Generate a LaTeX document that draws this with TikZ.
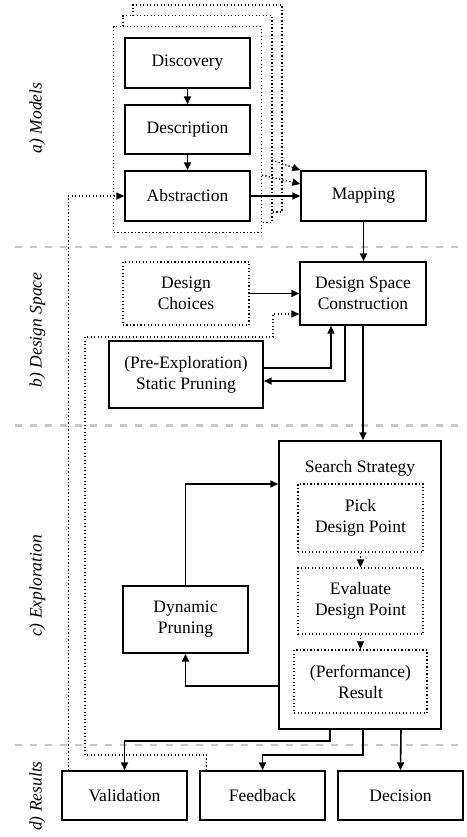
\documentclass[tikz,border=0pt]{standalone}
\usepackage{fontspec}
\setmainfont{Liberation Serif}
\usetikzlibrary{arrows.meta,calc,fit}
\pgfdeclarelayer{bgzero}\pgfdeclarelayer{bgone}
\pgfsetlayers{bgzero,bgone,main}
\begin{document}
\begin{tikzpicture}[x=0.5714pt,y=-0.5714pt,
  box/.style={draw, line width=0.9pt, fill=white, align=center, minimum width=71.4pt, minimum height=28.6pt, inner sep=1pt, font=\fontsize{10}{12}\selectfont},
  dbox/.style={box, dash pattern=on 0.75pt off 1.25pt, line width=0.75pt},
  arr/.style={line width=0.9pt, -{Triangle[length=4.5pt,width=4pt]}},
  dotarr/.style={line width=0.75pt, dash pattern=on 0.75pt off 1.25pt, -{Triangle[length=4.5pt,width=4pt]}},
  dotline/.style={line width=0.75pt, dash pattern=on 0.75pt off 1.25pt},
  sep/.style={gray!45, line width=1.4pt, dash pattern=on 4pt off 4.6pt},
  sect/.style={rotate=90, font=\fontsize{10}{12}\selectfont\itshape}
]
\useasboundingbox (0,0) rectangle (467,837);

% section separators
\begin{pgfonlayer}{bgzero}
\draw[sep] (15,247) -- (462,247);
\draw[sep] (15,425.5) -- (462,425.5);
\draw[sep] (15,745) -- (462,745);
\end{pgfonlayer}

% section labels
\node[sect] (la) at (37.5,118) {a) Models};
\node[sect] (lb) at (37.5,330) {b) Design Space};
\node[sect] (lc) at (37.5,586) {c) Exploration};
\node[sect] (ld) at (37.5,796) {d) Results};

% a) models
\node[box] (Discovery) at (187.5,63) {Discovery};
\node[box, minimum height=28pt] (Description) at (187.5,129.5) {Description};
\node[box] (Abstraction) at (187.5,196) {Abstraction};
\node[box] (Mapping) at (363.5,196) {Mapping};

\begin{pgfonlayer}{bgone}
\node[dotline, draw, fill=white, inner sep=6pt, fit=(Discovery)(Abstraction)] (grp) {};
\end{pgfonlayer}
\begin{pgfonlayer}{bgzero}
\draw[dotline, fill=white] ($(grp.south west)+(20,-21)$) rectangle ($(grp.north east)+(20,-21)$);
\draw[dotline, fill=white] ($(grp.south west)+(10,-10.5)$) rectangle ($(grp.north east)+(10,-10.5)$);
\end{pgfonlayer}

% b) design space
\node[dbox, minimum width=72pt, minimum height=36pt] (Choices) at (186,293.5) {Design\\Choices};
\node[box, minimum width=72pt, minimum height=36pt] (DSC) at (363,293.5) {Design Space\\Construction};
\node[box, minimum width=88pt, minimum height=38.3pt] (SP) at (186,374.5) {(Pre-Exploration)\\Static Pruning};

% c) exploration
\node[box, minimum width=92.6pt, minimum height=164.6pt] (SS) at (360,585) {};
\node[font=\fontsize{10}{12}\selectfont] (SSlabel) at (360,468) {Search Strategy};
\node[dbox, minimum height=38.9pt] (Pick) at (360.5,518) {Pick\\Design Point};
\node[dbox, minimum height=37.7pt] (Eval) at (360.5,601) {Evaluate\\Design Point};
\node[dbox, minimum width=76pt, minimum height=36pt] (Res) at (360.5,681.5) {(Performance)\\Result};
\node[box, minimum height=38.3pt] (DP) at (185.5,619.5) {Dynamic\\Pruning};

% d) results
\node[box, minimum height=28pt] (Val) at (124.5,795.5) {Validation};
\node[box, minimum height=28pt] (Fb) at (262.5,795.5) {Feedback};
\node[box, minimum height=28pt] (Dec) at (400.5,795.5) {Decision};

% connectors a)
\draw[arr] (Discovery) -- (Description);
\draw[arr] (Description) -- (Abstraction);
\draw[arr] (Abstraction) -- (Mapping);
\draw[dotarr] ($(grp.east)+(0,45.5)$) -- ($(Mapping.west)+(0,-12)$);
\draw[dotarr] ($(grp.east)+(10,30.5)$) -- (Mapping.north west);
\draw[arr] (Mapping.south) -- (Mapping.south |- DSC.north);

% connectors b)
\draw[arr] (Choices) -- (DSC);
\draw[arr] ($(SP.east)+(0,-6.5)$) -| ($(DSC.south)+(-32,0)$);
\draw[arr] ($(DSC.south)+(-18,0)$) |- ($(SP.east)+(0,6.5)$);
\draw[arr] (DSC.south) -- (DSC.south |- SS.north);

% connectors c)
\draw[arr] (DP.north) |- ($(SS.west)+(0,-101)$);
\draw[arr] ($(SS.west)+(0,101)$) -| (DP.south);
\draw[dotarr] (Pick) -- (Eval);
\draw[dotarr] (Eval) -- (Res);

% connectors d)
\draw[arr] ($(SS.south)+(-30,0)$) -- ++(0,11) -| (Val.north);
\draw[arr] ($(SS.south)+(3,0)$) -- ++(0,25) -| (Fb.north);
\draw[arr] ($(SS.south)+(41,0)$) -- (Dec.north);

% feedback loops (dotted)
\draw[dotarr] ($(Val.north west)+(7,0)$) |- (Abstraction.west);
\coordinate (fa) at (85,755);
\coordinate (fbb) at (85,337);
\coordinate (fc) at (273,337);
\draw[dotarr] ($(Fb.north west)+(7,0)$) |- (fa) -- (fbb) -- (fc) |- ($(DSC.west)+(0,20.5)$);
\end{tikzpicture}
\end{document}
